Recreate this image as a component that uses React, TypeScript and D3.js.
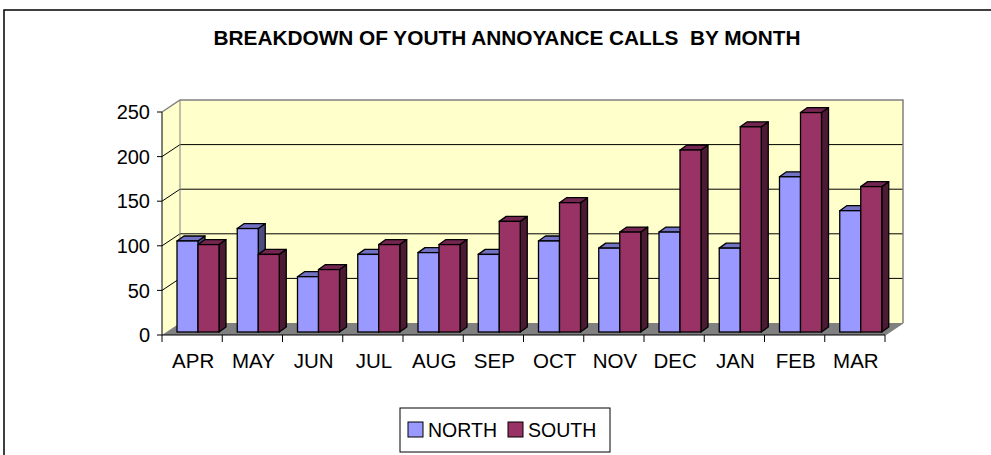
import React from "react";
import * as d3 from "d3";

const months = ["APR", "MAY", "JUN", "JUL", "AUG", "SEP", "OCT", "NOV", "DEC", "JAN", "FEB", "MAR"];
const north = [102, 116, 62, 87, 89, 87, 102, 94, 112, 94, 174, 136];
const south = [98, 87, 70, 98, 98, 124, 145, 112, 204, 230, 246, 163];
const seriesNames = ["NORTH", "SOUTH"];
const yTicks = [0, 50, 100, 150, 200, 250];
const title = "BREAKDOWN OF YOUTH ANNOYANCE CALLS  BY MONTH";

const W = 991, H = 455;
const FONT = "'Liberation Sans', Arial, sans-serif";

export default function App() {
  const x0 = 162, x1 = 885, yBase = 335, yTop = 112;
  const DX = 18, DY = -12; // floor depth
  const x = d3.scaleBand<string>().domain(months).range([x0, x1]).padding(0);
  const y = d3.scaleLinear().domain([0, 250]).range([yBase, yTop]);
  // bar front plane shift and bar depth
  const fx = 4.5, fy = -3;
  const bdx = 7, bdy = -5;
  const barInset = 10.5, barW = 21;

  const colors = [
    { front: "#9999FF", top: "#7272C4", side: "#4C4C80" },
    { front: "#993366", top: "#732650", side: "#4D1A33" },
  ];

  const bars: JSX.Element[] = [];
  months.forEach((m, i) => {
    [north[i], south[i]].forEach((v, s) => {
      const bx = (x(m) as number) + fx + barInset + s * barW;
      const by0 = yBase + fy;
      const byt = y(v) + fy;
      const c = colors[s];
      const side = `M${bx + barW},${by0} L${bx + barW + bdx},${by0 + bdy} L${bx + barW + bdx},${byt + bdy} L${bx + barW},${byt} Z`;
      const top = `M${bx},${byt} L${bx + bdx},${byt + bdy} L${bx + barW + bdx},${byt + bdy} L${bx + barW},${byt} Z`;
      bars.push(
        <g key={`${i}-${s}`}>
          <path d={side} fill={c.side} stroke="#000" strokeWidth={1.3} strokeLinejoin="round" />
          <path d={top} fill={c.top} stroke="#000" strokeWidth={1.3} strokeLinejoin="round" />
          <rect x={bx} y={byt} width={barW} height={by0 - byt} fill={c.front} stroke="#000" strokeWidth={1.3} />
        </g>
      );
    });
  });

  const legendX = 400, legendY = 408;

  return (
    <div style={{ position: "fixed", left: 0, top: 0, width: W, height: H, background: "#fff" }}>
      <svg width={W} height={H} style={{ display: "block" }}>
        <rect x={0} y={0} width={W} height={H} fill="#fff" />
        {/* outer border */}
        <path d={`M4,${H + 5} L4,10 L${W + 5},10`} fill="none" stroke="#000" strokeWidth={1.5} />
        <text x={507} y={45} textAnchor="middle" fontFamily={FONT} fontWeight="bold" fontSize={20}
          textLength={587} lengthAdjust="spacingAndGlyphs" style={{ whiteSpace: "pre" }}>{title}</text>

        {/* walls */}
        <polygon points={`${x0},${y(250)} ${x0 + DX},${y(250) + DY} ${x0 + DX},${yBase + DY} ${x0},${yBase}`} fill="#FFFFCC" />
        <rect x={x0 + DX} y={y(250) + DY} width={x1 - x0} height={yBase - y(250)} fill="#FFFFCC" />
        {/* gridlines */}
        {yTicks.filter(t => t > 0 && t < 250).map(t => (
          <g key={t}>
            <line x1={x0} y1={y(t)} x2={x0 + DX} y2={y(t) + DY} stroke="#000" strokeWidth={1} />
            <line x1={x0 + DX} y1={y(t) + DY} x2={x1 + DX} y2={y(t) + DY} stroke="#000" strokeWidth={1} />
          </g>
        ))}
        {/* wall edges */}
        <path d={`M${x0},${y(250)} L${x0 + DX},${y(250) + DY} L${x1 + DX},${y(250) + DY} L${x1 + DX},${yBase + DY}`} fill="none" stroke="#808080" strokeWidth={1.5} />
        <line x1={x0 + DX} y1={y(250) + DY} x2={x0 + DX} y2={yBase + DY} stroke="#808080" strokeWidth={1} />
        {/* floor */}
        <polygon points={`${x0},${yBase} ${x1},${yBase} ${x1 + DX},${yBase + DY} ${x0 + DX},${yBase + DY}`} fill="#808080" />
        <line x1={x1} y1={yBase} x2={x1 + DX} y2={yBase + DY} stroke="#808080" strokeWidth={1.5} />

        {bars}

        {/* y axis */}
        <line x1={x0} y1={y(250)} x2={x0} y2={yBase} stroke="#000" strokeWidth={1} />
        {yTicks.map(t => (
          <g key={t}>
            <line x1={x0 - 5} y1={y(t)} x2={x0} y2={y(t)} stroke="#000" strokeWidth={1} />
            <text x={150} y={y(t)} dy="0.36em" textAnchor="end" fontFamily={FONT} fontSize={20}>{t}</text>
          </g>
        ))}
        {/* x axis */}
        <line x1={x0} y1={yBase} x2={x1} y2={yBase} stroke="#000" strokeWidth={1} />
        {months.concat(["__end"]).map((m, i) => {
          const tx = i < months.length ? (x(m) as number) : x1;
          return <line key={m} x1={tx} y1={yBase} x2={tx} y2={yBase + 7} stroke="#000" strokeWidth={1} />;
        })}
        {months.map(m => (
          <text key={m} x={(x(m) as number) + x.bandwidth() / 2 + 1} y={368} textAnchor="middle" fontFamily={FONT} fontSize={20.5}>{m}</text>
        ))}

        {/* legend */}
        <rect x={legendX} y={legendY} width={210} height={44} fill="#fff" stroke="#000" strokeWidth={1} />
        {seriesNames.map((n, i) => {
          const lx = legendX + 8 + i * 100;
          return (
            <g key={n}>
              <rect x={lx} y={legendY + 14} width={15} height={15} fill={colors[i].front} stroke="#000" strokeWidth={1} />
              <text x={lx + 20} y={legendY + 29} fontFamily={FONT} fontSize={19.5}>{n}</text>
            </g>
          );
        })}
      </svg>
    </div>
  );
}
